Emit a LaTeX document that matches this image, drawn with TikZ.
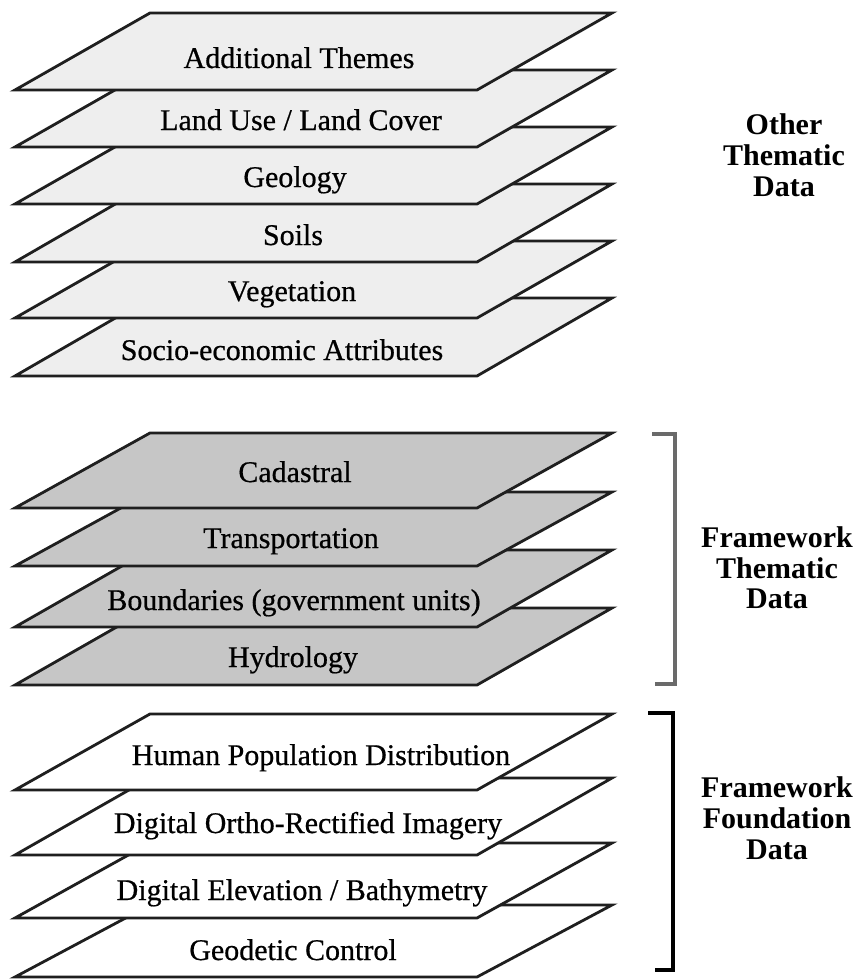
\documentclass[tikz,border=0pt]{standalone}
\usepackage{fontspec}
\setmainfont{Liberation Serif}
\newfontfamily\labfont[FakeBold=0.6]{Liberation Serif}
\definecolor{lightfill}{HTML}{EEEEEE}
\definecolor{midfill}{HTML}{C6C6C6}
\definecolor{brkgray}{HTML}{6A6A6A}
\begin{document}
\begin{tikzpicture}[x=1pt,y=-1pt]
\tikzset{
  layeredge/.style={draw=black!88, line width=2.8pt, line join=miter},
  lab/.style={anchor=base, inner sep=0pt, font=\labfont\fontsize{30}{36}\selectfont},
  side/.style={anchor=base, inner sep=0pt, font=\fontsize{30}{36}\selectfont\bfseries},
  brk/.style={line width=3.4pt},
}
\newcommand\drawlayer[3]{%
  \filldraw[layeredge, fill=#3] (15,#2) -- (477,#2) -- (612,#1) -- (150,#1) -- cycle;}
\useasboundingbox (0,0) rectangle (863,979);
\fill[white] (0,0) rectangle (863,979);

% ---- Other thematic data (bottom layer first)
\drawlayer{298}{376}{lightfill}
\drawlayer{241}{318}{lightfill}
\drawlayer{184}{262}{lightfill}
\drawlayer{127}{204}{lightfill}
\drawlayer{70}{147}{lightfill}
\drawlayer{13}{90}{lightfill}

% ---- Framework thematic data
\drawlayer{608}{685}{midfill}
\drawlayer{550}{627}{midfill}
\drawlayer{492}{566}{midfill}
\drawlayer{433}{508}{midfill}

% ---- Framework foundation data
\drawlayer{905}{977}{white}
\drawlayer{843}{918}{white}
\drawlayer{778}{855}{white}
\drawlayer{714}{790}{white}

% ---- layer labels
\node[lab] (addth) at (299,68) {Additional Themes};
\node[lab] (landuse) at (301,130) {Land Use / Land Cover};
\node[lab] (geol) at (295,187) {Geology};
\node[lab] (soils) at (293,245) {Soils};
\node[lab] (veg) at (292,301) {Vegetation};
\node[lab] (socio) at (282,360) {Socio-economic Attributes};

\node[lab] (cad) at (295,482) {Cadastral};
\node[lab] (transp) at (291,548) {Transportation};
\node[lab] (bound) at (294,610) {Boundaries (government units)};
\node[lab] (hydro) at (293,667) {Hydrology};

\node[lab] (humpop) at (321,765) {Human Population Distribution};
\node[lab] (ortho) at (308,833) {Digital Ortho-Rectified Imagery};
\node[lab] (elev) at (302,900) {Digital Elevation / Bathymetry};
\node[lab] (geod) at (293,960) {Geodetic Control};

% ---- brackets
\draw[brk, draw=brkgray] (652,434) -- (675,434) -- (675,684) -- (655,684);
\draw[brk, draw=black] (648,713) -- (673,713) -- (673,970) -- (655,970);

% ---- group labels
\node[side] (othA) at (784,135) {Other};
\node[side] (othB) at (784,165) {Thematic};
\node[side] (othC) at (784,196) {Data};

\node[side] (fwtA) at (777,547) {Framework};
\node[side] (fwtB) at (777,578) {Thematic};
\node[side] (fwtC) at (777,608) {Data};

\node[side] (fwfA) at (777,797) {Framework};
\node[side] (fwfB) at (777,828) {Foundation};
\node[side] (fwfC) at (777,859) {Data};
\end{tikzpicture}
\end{document}
